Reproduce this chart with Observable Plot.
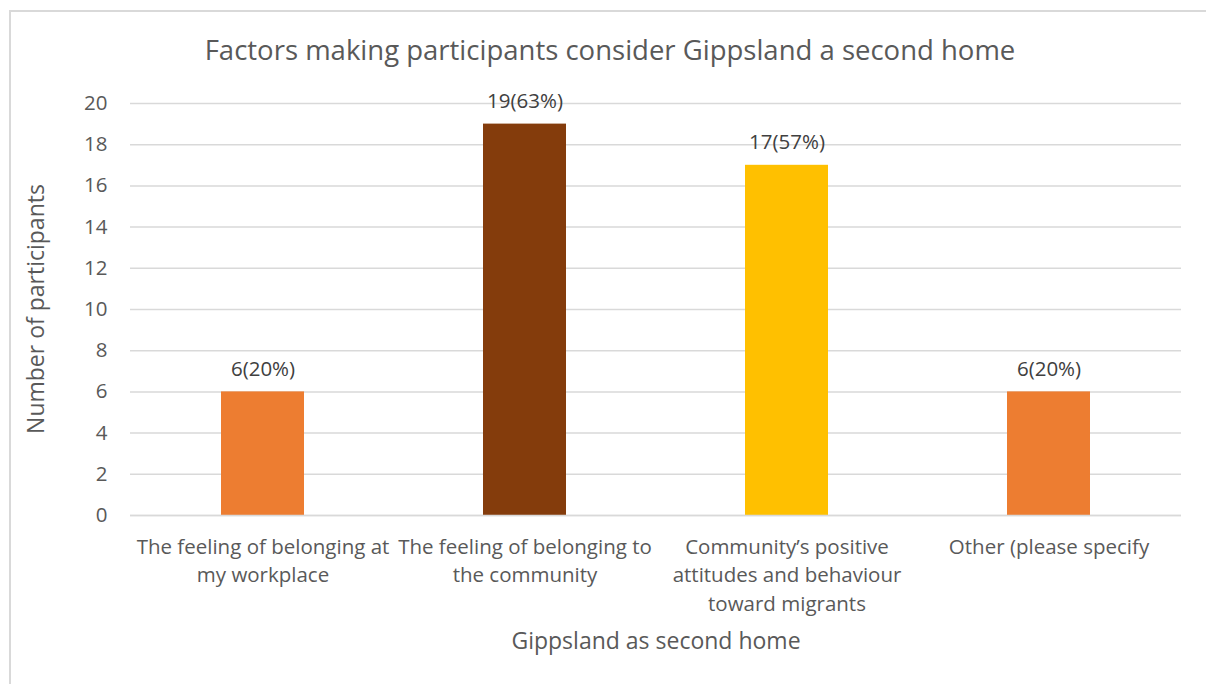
<!DOCTYPE html>
<html>
<head>
<meta charset="utf-8">
<script src="https://cdn.jsdelivr.net/npm/d3@7"></script>
<script src="https://cdn.jsdelivr.net/npm/@observablehq/plot@0.6"></script>
<style>
  html, body { margin: 0; padding: 0; background: #fff; }
  body { width: 1206px; height: 684px; position: relative; overflow: hidden; font-family: "Open Sans", sans-serif; }
  #frame { position: absolute; left: 9px; top: 10px; width: 1300px; height: 800px; border-left: 2px solid #d9d9d9; border-top: 2px solid #d9d9d9; }
  #title { position: absolute; left: 0; width: 1220px; top: 31px; text-align: center; font-size: 27.5px; color: #595959; line-height: 38px; white-space: nowrap; }
  #ylabel { position: absolute; left: 35px; top: 309px; transform: translate(-50%, -50%) rotate(-90deg); font-size: 23px; color: #595959; white-space: nowrap; line-height: 30px; }
  #chart { position: absolute; left: 0; top: 0; }
</style>
</head>
<body>
<div id="frame"></div>
<div id="chart"></div>
<div id="title">Factors making participants consider Gippsland a second home</div>
<div id="ylabel">Number of participants</div>
<script>
const categories = [
  "The feeling of belonging at my workplace",
  "The feeling of belonging to the community",
  "Community’s positive attitudes and behaviour toward migrants",
  "Other (please specify"
];
const categoryLines = [
  "The feeling of belonging at\nmy workplace",
  "The feeling of belonging to\nthe community",
  "Community’s positive\nattitudes and behaviour\ntoward migrants",
  "Other (please specify"
];
const counts = [6, 19, 17, 6];
const labels = ["6(20%)", "19(63%)", "17(57%)", "6(20%)"];
const colors = ["#ED7D31", "#843C0C", "#FFC000", "#ED7D31"];
const yTicks = [0, 2, 4, 6, 8, 10, 12, 14, 16, 18, 20];

const data = categories.map((c, i) => ({cat: c, lines: categoryLines[i], n: counts[i], label: labels[i], color: colors[i]}));

const chart = Plot.plot({
  width: 1206,
  height: 684,
  marginLeft: 130,
  marginRight: 25,
  marginTop: 103,
  marginBottom: 169,
  style: {fontFamily: "Open Sans, sans-serif", background: "transparent", overflow: "visible"},
  x: {domain: categories, paddingInner: 0.684, paddingOuter: 0.342, axis: null},
  y: {domain: [0, 20], ticks: yTicks, axis: null},
  marks: [
    Plot.gridY(yTicks, {stroke: "#d9d9d9", strokeOpacity: 1, strokeWidth: 1.5}),
    Plot.barY(data, {x: "cat", y: "n", fill: "color"}),
    Plot.ruleY([0], {stroke: "#d9d9d9", strokeWidth: 1.5}),
    Plot.axisY(yTicks, {tickSize: 0, tickPadding: 23, fontSize: 20.5, fill: "#595959", label: null, tickFormat: d => String(d)}),
    Plot.text(data, {x: "cat", y: "n", text: "label", dy: -16, lineAnchor: "bottom", fontSize: 20.5, fill: "#404040"}),
    Plot.text(data, {x: "cat", text: "lines", frameAnchor: "bottom", lineAnchor: "top", dy: 18, fontSize: 20.5, lineHeight: 1.39, fill: "#595959"}),
    Plot.text(["Gippsland as second home"], {frameAnchor: "bottom", dy: 133, fontSize: 23, fill: "#595959"})
  ]
});
document.getElementById("chart").appendChild(chart);
</script>
</body>
</html>
